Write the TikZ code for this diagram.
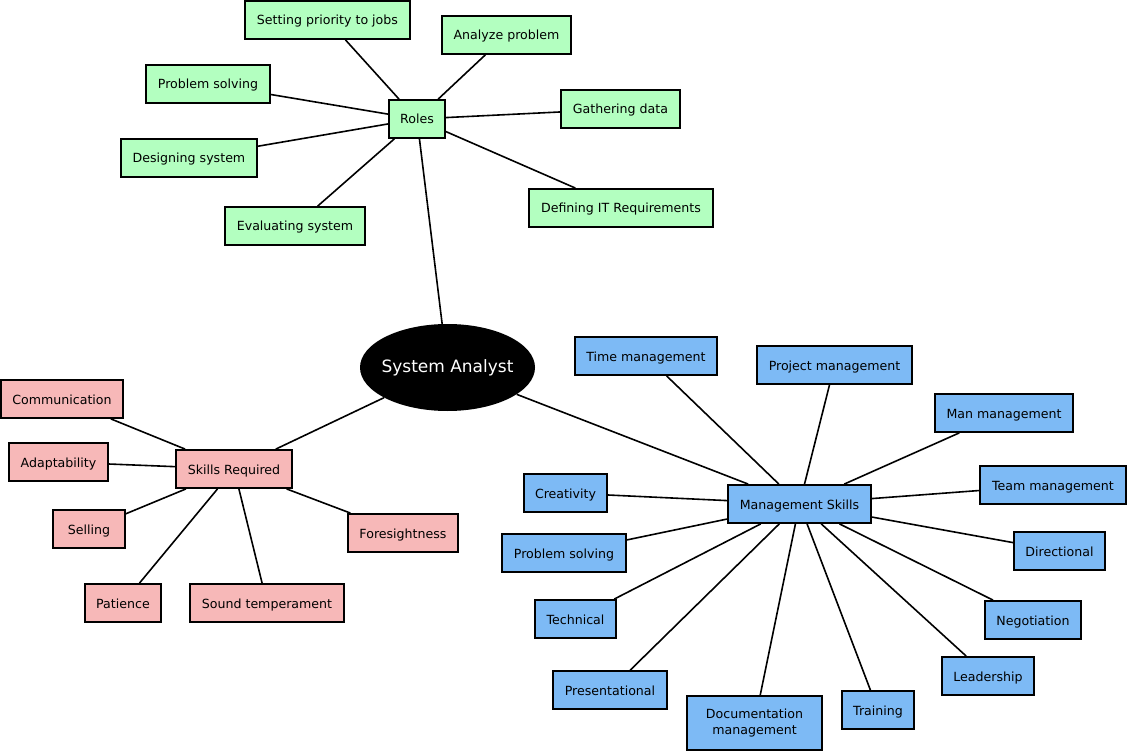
\documentclass[tikz,border=0pt]{standalone}
\usepackage{fontspec}
\setmainfont{DejaVu Sans}
\usetikzlibrary{shapes.geometric}
\definecolor{gbox}{HTML}{B3FFC0}
\definecolor{pbox}{HTML}{F7B8B8}
\definecolor{bbox}{HTML}{7DBAF5}
\tikzset{
  leafbase/.style={draw=black, line width=1.8pt, rectangle, inner sep=0pt, align=center,
    font=\fontsize{12.6}{16}\selectfont},
  leaf/.style={leafbase, text height=12pt, text depth=2pt},
  gn/.style={leaf, fill=gbox},
  pn/.style={leaf, fill=pbox},
  bn/.style={leaf, fill=bbox},
  edge/.style={draw=black, line width=1.6pt},
}
\begin{document}
\begin{tikzpicture}[x=1pt,y=-1pt]
\useasboundingbox (0,0) rectangle (1127,751);
\fill[white] (0,0) rectangle (1127,751);
% center
\node[ellipse, fill=black, text=white, minimum width=175pt, minimum height=87pt, inner sep=0pt,
  font=\fontsize{17}{20}\selectfont] (sa) at (447.5,367.5) {\makebox[0pt]{System Analyst}};
% green
\node[gn, minimum width=165pt, minimum height=38pt] (sp) at (327.5,20) {Setting priority to jobs};
\node[gn, minimum width=129pt, minimum height=38pt] (ap) at (506.5,35) {Analyze problem};
\node[gn, minimum width=124pt, minimum height=38pt] (ps) at (208,84) {Problem solving};
\node[gn, minimum width=56pt, minimum height=38pt] (roles) at (417,119) {Roles};
\node[gn, minimum width=119pt, minimum height=38pt] (gd) at (620.5,109) {Gathering data};
\node[gn, minimum width=136pt, minimum height=38pt] (ds) at (189,158) {Designing system};
\node[gn, minimum width=184pt, minimum height=38pt] (dit) at (621,208) {Defining IT Requirements};
\node[gn, minimum width=140pt, minimum height=38pt] (es) at (295,226) {Evaluating system};
% pink
\node[pn, minimum width=122pt, minimum height=38pt] (com) at (62,399) {Communication};
\node[pn, minimum width=99pt, minimum height=38pt] (ada) at (58.5,462) {Adaptability};
\node[pn, minimum width=116pt, minimum height=38pt] (sr) at (234,469) {Skills Required};
\node[pn, minimum width=72pt, minimum height=38pt] (sel) at (89,529) {Selling};
\node[pn, minimum width=110pt, minimum height=38pt] (fore) at (403,533) {Foresightness};
\node[pn, minimum width=76pt, minimum height=38pt] (pat) at (123,603) {Patience};
\node[pn, minimum width=154pt, minimum height=38pt] (st) at (267,603) {Sound temperament};
% blue
\node[bn, minimum width=142pt, minimum height=38pt] (tm) at (646,356) {Time management};
\node[bn, minimum width=155pt, minimum height=38pt] (pm) at (834.5,365) {Project management};
\node[bn, minimum width=138pt, minimum height=38pt] (mm) at (1004,413) {Man management};
\node[bn, minimum width=146pt, minimum height=38pt] (team) at (1053,485) {Team management};
\node[bn, minimum width=83pt, minimum height=38pt] (cre) at (565.5,493) {Creativity};
\node[bn, minimum width=143pt, minimum height=38pt] (ms) at (799.5,504) {Management Skills};
\node[bn, minimum width=124pt, minimum height=38pt] (bps) at (564,553) {Problem solving};
\node[bn, minimum width=91pt, minimum height=38pt] (dir) at (1059.5,551) {Directional};
\node[bn, minimum width=81pt, minimum height=38pt] (tec) at (575.5,619) {Technical};
\node[bn, minimum width=96pt, minimum height=38pt] (neg) at (1033,620) {Negotiation};
\node[bn, minimum width=92pt, minimum height=38pt] (lead) at (988,676) {Leadership};
\node[bn, minimum width=114pt, minimum height=38pt] (pres) at (610,690) {Presentational};
\node[leafbase, fill=bbox, minimum width=135pt, minimum height=54pt] (doc) at (754.5,723) {Documentation\\management};
\node[bn, minimum width=72pt, minimum height=38pt] (tr) at (878,710) {Training};
% edges
\foreach \a/\b in {roles/sa, roles/sp, roles/ap, roles/ps, roles/gd, roles/ds, roles/dit, roles/es,
  sa/sr, sr/com, sr/ada, sr/sel, sr/fore, sr/pat, sr/st,
  sa/ms, ms/tm, ms/pm, ms/mm, ms/team, ms/cre, ms/bps, ms/dir, ms/tec, ms/neg, ms/lead, ms/pres, ms/doc, ms/tr}
  \draw[edge] (\a) -- (\b);
\end{tikzpicture}
\end{document}
